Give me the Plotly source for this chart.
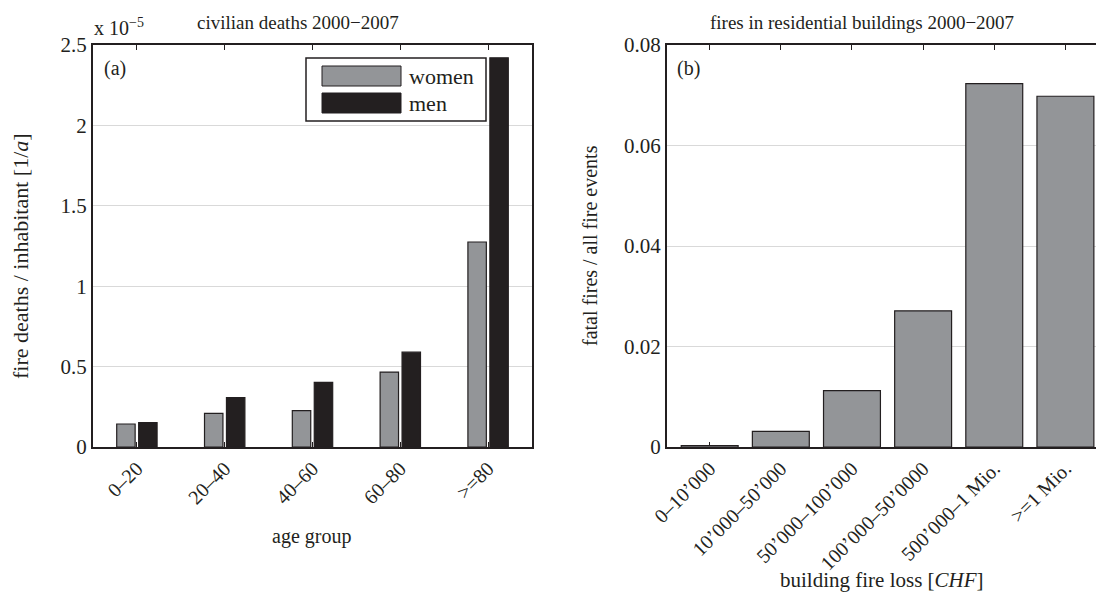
import plotly.graph_objects as go

# Panel (a): civilian fire deaths per inhabitant by age group (units of 1e-5)
age_groups = ["0–20", "20–40", "40–60", "60–80", ">=80"]
series_names = ["women", "men"]
women_rate = [0.143, 0.209, 0.226, 0.466, 1.275]
men_rate = [0.151, 0.307, 0.402, 0.590, 2.420]
rate_ticks = [0, 0.5, 1, 1.5, 2, 2.5]

# Panel (b): share of fatal fires among all fire events by building loss class
loss_classes = ["0–10’000", "10’000–50’000", "50’000–100’000",
                "100’000–50’0000", "500’000–1 Mio.", ">=1 Mio."]
fatal_share = [0.0003, 0.0031, 0.0112, 0.0271, 0.0723, 0.0698]
share_ticks = [0, 0.02, 0.04, 0.06, 0.08]

W, H = 1096, 592
GRAY = "#939598"
DARK = "#231f20"
FONT = "Liberation Serif, Times New Roman, serif"

def px(x):
    return x / W

def py(y):
    return 1 - y / H

fig = go.Figure()

xa = list(range(1, len(age_groups) + 1))
fig.add_trace(go.Bar(x=xa, y=women_rate, name=series_names[0], marker=dict(
    color=GRAY, line=dict(color=DARK, width=1.2)), xaxis="x", yaxis="y", showlegend=False))
fig.add_trace(go.Bar(x=xa, y=men_rate, name=series_names[1], marker=dict(
    color=DARK, line=dict(color=DARK, width=1.2)), xaxis="x", yaxis="y", showlegend=False))

xb = list(range(1, len(loss_classes) + 1))
fig.add_trace(go.Bar(x=xb, y=fatal_share, marker=dict(
    color=GRAY, line=dict(color=DARK, width=1.2)), width=0.8,
    xaxis="x2", yaxis="y2", showlegend=False))

xtickfont = dict(family=FONT, size=20, color=DARK)
ytickfont = dict(family=FONT, size=21, color=DARK)
y_dom = [py(447), py(45)]

common_x = dict(showline=True, linecolor=DARK, linewidth=2, ticks="inside",
                ticklen=5, tickcolor=DARK, tickwidth=1, showgrid=False,
                tickangle=-45, tickfont=xtickfont, automargin=False,
                zeroline=False, layer="below traces", fixedrange=True)
common_y = dict(showline=True, linecolor=DARK, linewidth=2, ticks="",
                showgrid=True, gridcolor="#d9d9d9", gridwidth=1,
                tickfont=ytickfont, automargin=False, zeroline=False,
                layer="below traces", fixedrange=True)

fig.update_layout(
    width=W, height=H,
    margin=dict(l=0, r=0, t=0, b=0),
    paper_bgcolor="white", plot_bgcolor="white",
    barmode="group", bargap=0.5, bargroupgap=0.16,
    font=dict(family=FONT, size=20, color=DARK),
    xaxis=dict(domain=[px(93), px(532)], range=[0.5, 5.5], mirror="ticks",
               tickvals=xa, ticktext=age_groups, anchor="y", **common_x),
    yaxis=dict(domain=y_dom, range=[0, 2.5], mirror=True, tickvals=rate_ticks,
               ticktext=["0", "0.5", "1", "1.5", "2", "2.5"], anchor="x",
               **common_y),
    xaxis2=dict(domain=[px(667), 1.0], range=[0.4, 6.43], mirror="ticks",
                tickvals=xb, ticktext=loss_classes, anchor="y2", **common_x),
    yaxis2=dict(domain=y_dom, range=[0, 0.08], mirror=False, tickvals=share_ticks,
                ticktext=["0", "0.02", "0.04", "0.06", "0.08"], anchor="x2",
                **common_y),
)

ann = []

def text(x, y, s, size=20, xanchor="center", yanchor="middle", angle=0):
    ann.append(dict(x=px(x), y=py(y), xref="paper", yref="paper", text=s,
                    showarrow=False, xanchor=xanchor, yanchor=yanchor,
                    textangle=angle, font=dict(family=FONT, size=size, color=DARK)))

# titles and panel tags
text(298, 22, "civilian deaths 2000−2007", size=19)
text(862, 22, "fires in residential buildings 2000−2007", size=19)
text(92, 27, "x 10<sup>−5</sup>", size=20, xanchor="left")
text(102, 68, "(a)", size=20, xanchor="left")
text(675, 68, "(b)", size=20, xanchor="left")

# axis titles
text(20, 256, "fire deaths / inhabitant [1/<i>a</i>]", size=22, angle=-90)
text(590, 246, "fatal fires / all fire events", size=20, angle=-90)
text(311, 536, "age group", size=20)
text(882, 580, "building fire loss [<i>CHF</i>]", size=21)

# legend box for panel (a)
shapes = [dict(type="rect", xref="paper", yref="paper",
               x0=px(306), x1=px(486), y0=py(121), y1=py(58),
               line=dict(color=DARK, width=1.5), fillcolor="white", layer="above")]
legend_rows = [(series_names[0], GRAY, 66, 86), (series_names[1], DARK, 93, 113)]
for name, col, y0, y1 in legend_rows:
    shapes.append(dict(type="rect", xref="paper", yref="paper",
                       x0=px(322), x1=px(401), y0=py(y1), y1=py(y0),
                       line=dict(color=DARK, width=1), fillcolor=col, layer="above"))
    text(407, (y0 + y1) / 2, name, size=22, xanchor="left")

fig.update_layout(annotations=ann, shapes=shapes)

fig.write_html("out.html")
